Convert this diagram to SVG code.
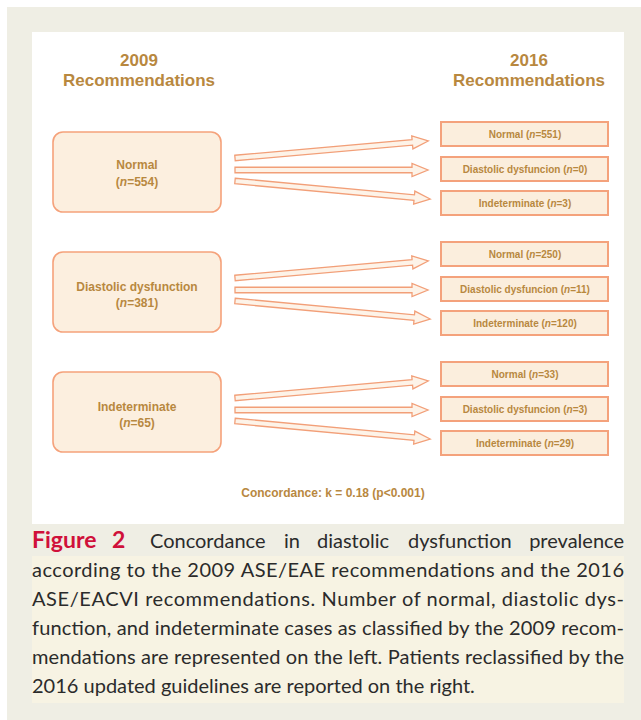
<svg xmlns="http://www.w3.org/2000/svg" width="641" height="720" viewBox="0 0 641 720">
<style>
.title{font-family:"Liberation Sans",Arial,sans-serif;font-weight:bold;font-size:17px;fill:#b8883f;text-anchor:middle}
.lbl{font-family:"Liberation Sans",Arial,sans-serif;font-weight:bold;font-size:12px;fill:#b8883f;text-anchor:middle}
.rlbl{font-family:"Liberation Sans",Arial,sans-serif;font-weight:bold;font-size:10px;fill:#b8883f;text-anchor:middle}
.lbox{fill:#fcefdf;stroke:#f5a27b;stroke-width:1.6}
.rbox{fill:#fbeedd;stroke:#f4a27c;stroke-width:2}
.arr{fill:#fdf3e8;stroke:#f29f78;stroke-width:1.3;stroke-linejoin:miter}
.cap{font-family:Lato,"Open Sans",sans-serif;font-size:20px;fill:#2b2b2b}
.fig{font-family:Lato,"Open Sans",sans-serif;font-size:23px;font-weight:bold;fill:#d0103a}
</style>
<rect x="0" y="0" width="641" height="720" fill="#ffffff"/>
<rect x="7" y="7" width="634" height="713" fill="#efeee4"/>
<rect x="32" y="32" width="592" height="492" fill="#ffffff"/>
<rect x="32" y="556" width="592" height="147" fill="#f7f3e3"/>

<g id="headers">
<text class="title" x="139" y="66">2009</text>
<text class="title" x="139" y="86">Recommendations</text>
<text class="title" x="529" y="66">2016</text>
<text class="title" x="529" y="86">Recommendations</text>
</g>

<g id="left-normal">
<rect class="lbox" x="53" y="132" width="168" height="80" rx="10"/>
<text class="lbl" x="137" y="169">Normal</text>
<text class="lbl" x="137" y="186">(<tspan font-style="italic">n</tspan>=554)</text>
</g>
<g id="left-dd">
<rect class="lbox" x="53" y="252" width="168" height="80" rx="10"/>
<text class="lbl" x="137" y="291">Diastolic dysfunction</text>
<text class="lbl" x="137" y="307">(<tspan font-style="italic">n</tspan>=381)</text>
</g>
<g id="left-ind">
<rect class="lbox" x="53" y="372" width="168" height="80" rx="10"/>
<text class="lbl" x="137" y="411">Indeterminate</text>
<text class="lbl" x="137" y="427">(<tspan font-style="italic">n</tspan>=65)</text>
</g>

<g id="r1-normal"><rect class="rbox" x="441" y="122" width="167" height="24"/><text class="rlbl" x="525" y="138">Normal (<tspan font-style="italic">n</tspan>=551)</text></g>
<g id="r1-dd"><rect class="rbox" x="441" y="157" width="167" height="24"/><text class="rlbl" x="525" y="173">Diastolic dysfuncion (<tspan font-style="italic">n</tspan>=0)</text></g>
<g id="r1-ind"><rect class="rbox" x="441" y="191" width="167" height="24"/><text class="rlbl" x="525" y="207">Indeterminate (<tspan font-style="italic">n</tspan>=3)</text></g>

<g id="r2-normal"><rect class="rbox" x="441" y="242" width="167" height="24"/><text class="rlbl" x="525" y="258">Normal (<tspan font-style="italic">n</tspan>=250)</text></g>
<g id="r2-dd"><rect class="rbox" x="441" y="277" width="167" height="24"/><text class="rlbl" x="525" y="293">Diastolic dysfuncion (<tspan font-style="italic">n</tspan>=11)</text></g>
<g id="r2-ind"><rect class="rbox" x="441" y="311" width="167" height="24"/><text class="rlbl" x="525" y="327">Indeterminate (<tspan font-style="italic">n</tspan>=120)</text></g>

<g id="r3-normal"><rect class="rbox" x="441" y="362" width="167" height="24"/><text class="rlbl" x="525" y="378">Normal (<tspan font-style="italic">n</tspan>=33)</text></g>
<g id="r3-dd"><rect class="rbox" x="441" y="397" width="167" height="24"/><text class="rlbl" x="525" y="413">Diastolic dysfuncion (<tspan font-style="italic">n</tspan>=3)</text></g>
<g id="r3-ind"><rect class="rbox" x="441" y="431" width="167" height="24"/><text class="rlbl" x="525" y="447">Indeterminate (<tspan font-style="italic">n</tspan>=29)</text></g>

<defs>
<path id="a194" d="M0,-2.75 H178 V-6.5 L194,0 L178,6.5 V2.75 H0 Z"/>
<path id="a193" d="M0,-2.75 H177 V-6.5 L193,0 L177,6.5 V2.75 H0 Z"/>
<path id="a196" d="M0,-2.75 H180 V-6.5 L196,0 L180,6.5 V2.75 H0 Z"/>
</defs>
<g id="connectors">
<use class="arr" href="#a194" transform="translate(235,158) rotate(-5.03)"/>
<use class="arr" href="#a193" transform="translate(235,170)"/>
<use class="arr" href="#a196" transform="translate(235,181) rotate(5.27)"/>
<use class="arr" href="#a194" transform="translate(235,278) rotate(-5.03)"/>
<use class="arr" href="#a193" transform="translate(235,290)"/>
<use class="arr" href="#a196" transform="translate(235,301) rotate(5.27)"/>
<use class="arr" href="#a194" transform="translate(235,398) rotate(-5.03)"/>
<use class="arr" href="#a193" transform="translate(235,410)"/>
<use class="arr" href="#a196" transform="translate(235,421) rotate(5.27)"/>
</g>

<text class="lbl" x="333" y="497" font-size="12.5">Concordance: k = 0.18 (p&lt;0.001)</text>

<g id="caption">
<text class="fig" x="32" y="548">Figure<tspan x="112">2</tspan></text>
<text class="cap" y="548"><tspan x="150">Concordance</tspan><tspan x="284">in</tspan><tspan x="317">diastolic</tspan><tspan x="408">dysfunction</tspan><tspan x="624" text-anchor="end">prevalence</tspan></text>
<text class="cap" x="32" y="577" textLength="592" lengthAdjust="spacing">according to the 2009 ASE/EAE recommendations and the 2016</text>
<text class="cap" x="32" y="606" textLength="592" lengthAdjust="spacing">ASE/EACVI recommendations. Number of normal, diastolic dys-</text>
<text class="cap" x="32" y="635" textLength="592" lengthAdjust="spacing">function, and indeterminate cases as classified by the 2009 recom-</text>
<text class="cap" x="32" y="664" textLength="592" lengthAdjust="spacing">mendations are represented on the left. Patients reclassified by the</text>
<text class="cap" x="32" y="693">2016 updated guidelines are reported on the right.</text>
</g>
</svg>
